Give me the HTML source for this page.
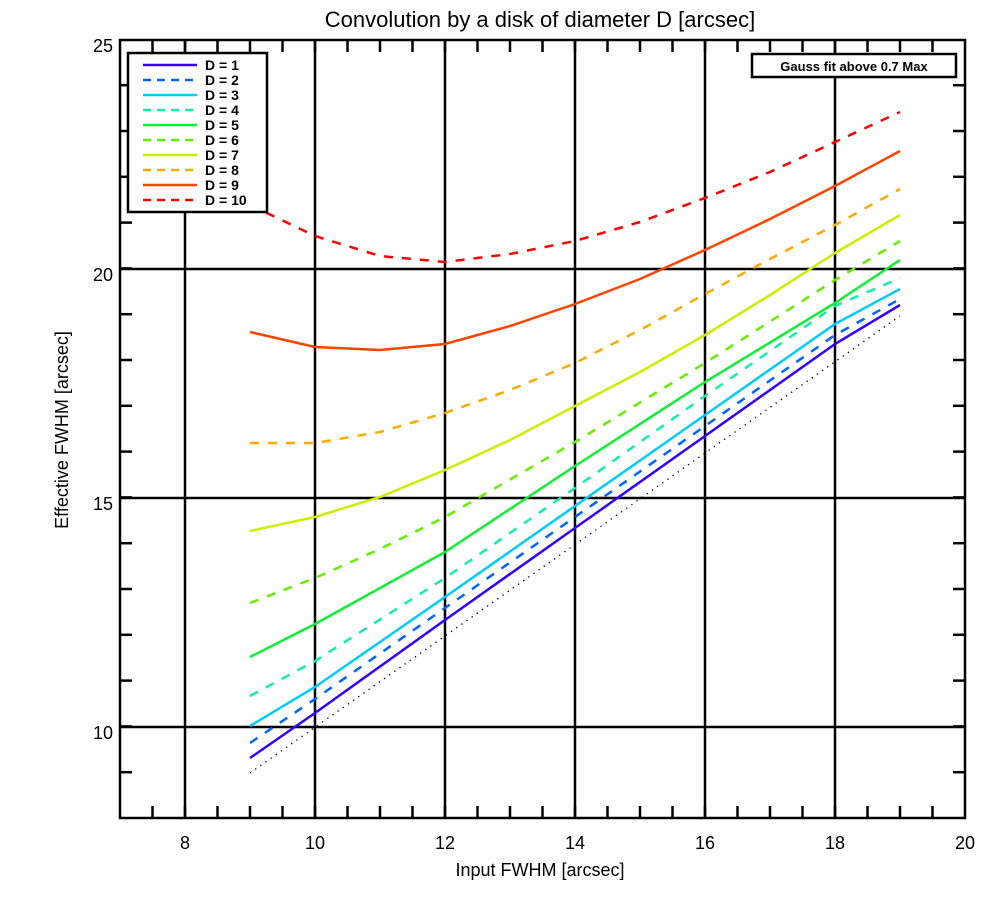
<!DOCTYPE html>
<html><head><meta charset="utf-8"><style>
html,body{margin:0;padding:0;background:#fff;}
svg{display:block;font-family:"Liberation Sans",sans-serif;}
</style></head><body>
<svg id="s" width="1000" height="900" xmlns="http://www.w3.org/2000/svg">
<rect width="1000" height="900" fill="#fff"/>
<g id="grid" stroke="#000" stroke-width="2.5"></g>
<g fill="none" stroke-width="2.5">
<polyline stroke="#000" stroke-width="1.3" stroke-dasharray="1.3,5" points="250,773 900,316"/>
<polyline stroke="#3300ff" points="250,758 315,713 445,620 575,528 705,436 835,344 900,305"/>
<polyline stroke="#0066ff" stroke-dasharray="9,9" points="250,743 315,699 445,608 575,517 705,426 835,335 900,299"/>
<polyline stroke="#00ccff" points="250,726 315,687 445,597 575,506 705,415 835,324 900,289"/>
<polyline stroke="#11eeaa" stroke-dasharray="9,9" points="250,696 315,661 445,578 575,488 705,396 835,306 900,278"/>
<polyline stroke="#11ee33" points="250,657 315,624 445,552 575,466 705,382 835,303 900,260"/>
<polyline stroke="#66ee00" stroke-dasharray="9,9" points="250,603 315,578 380,549 445,517 575,442 705,363 835,280 900,241"/>
<polyline stroke="#ccee00" points="250,531 315,517 380,497 445,470 510,440 575,406 640,372 705,335 770,295 835,253 900,215"/>
<polyline stroke="#ffaa00" stroke-dasharray="9,9" points="250,443 315,443 380,432 445,413 510,390 575,363 640,330 705,294 770,259 835,225 900,189"/>
<polyline stroke="#ff4400" points="250,332 315,347 380,350 445,344 510,326 575,304 640,279 705,250 770,219 835,186 900,151"/>
<polyline stroke="#ff0000" stroke-dasharray="9,9" points="250,205 315,236 380,256 445,262 510,254 575,241 640,222 705,198 770,172 835,142 900,112"/>
</g>
<g id="ax" stroke="#000" stroke-width="2.5" fill="none">
<rect x="120" y="40" width="845" height="778"/>
</g>
<rect x="128" y="53" width="139" height="159" fill="#fff" stroke="#000" stroke-width="2.5"/>
<g stroke-width="2.5">
<line x1="143" y1="65" x2="197" y2="65" stroke="#3300ff"/>
<line x1="143" y1="80" x2="197" y2="80" stroke="#0066ff" stroke-dasharray="8,6"/>
<line x1="143" y1="95" x2="197" y2="95" stroke="#00ccff"/>
<line x1="143" y1="110" x2="197" y2="110" stroke="#11eeaa" stroke-dasharray="8,6"/>
<line x1="143" y1="125" x2="197" y2="125" stroke="#11ee33"/>
<line x1="143" y1="140" x2="197" y2="140" stroke="#66ee00" stroke-dasharray="8,6"/>
<line x1="143" y1="155" x2="197" y2="155" stroke="#ccee00"/>
<line x1="143" y1="170" x2="197" y2="170" stroke="#ffaa00" stroke-dasharray="8,6"/>
<line x1="143" y1="185" x2="197" y2="185" stroke="#ff4400"/>
<line x1="143" y1="200" x2="197" y2="200" stroke="#ff0000" stroke-dasharray="8,6"/>
</g>
<g font-size="14" font-weight="bold" fill="#000">
<text x="205" y="70">D = 1</text><text x="205" y="85">D = 2</text><text x="205" y="100">D = 3</text>
<text x="205" y="115">D = 4</text><text x="205" y="130">D = 5</text><text x="205" y="145">D = 6</text>
<text x="205" y="160">D = 7</text><text x="205" y="175">D = 8</text><text x="205" y="190">D = 9</text>
<text x="205" y="205">D = 10</text>
</g>
<rect x="752" y="54" width="204" height="23" fill="#fff" stroke="#000" stroke-width="2.5"/>
<text x="854" y="71" font-size="13" font-weight="bold" text-anchor="middle">Gauss fit above 0.7 Max</text>
<g font-size="18" text-anchor="middle">
<text x="185" y="849">8</text><text x="315" y="849">10</text><text x="445" y="849">12</text>
<text x="575" y="849">14</text><text x="705" y="849">16</text><text x="835" y="849">18</text><text x="965" y="849">20</text>
</g>
<g font-size="18" text-anchor="end">
<text x="113" y="52">25</text><text x="113" y="281">20</text><text x="113" y="510">15</text><text x="113" y="739">10</text>
</g>
<text x="540" y="876" font-size="18" text-anchor="middle">Input FWHM [arcsec]</text>
<text transform="translate(68,430) rotate(-90)" font-size="18" text-anchor="middle">Effective FWHM [arcsec]</text>
<text x="540" y="27" font-size="22" text-anchor="middle">Convolution by a disk of diameter D [arcsec]</text>
<script>
var ns="http://www.w3.org/2000/svg",g=document.getElementById("grid");
function L(x1,y1,x2,y2,w){var l=document.createElementNS(ns,"line");l.setAttribute("x1",x1);l.setAttribute("y1",y1);l.setAttribute("x2",x2);l.setAttribute("y2",y2);if(w)l.setAttribute("stroke-width",w);g.appendChild(l);}
[185,315,445,575,705,835].forEach(function(x){L(x,40,x,818);});
[269,498,727].forEach(function(y){L(120,y,965,y);});
for(var i=1;i<26;i++){var x=120+32.5*i;L(x,818,x,806);L(x,40,x,52);}
for(var v=9;v<25;v++){var y=818-(v-8)*45.8;L(120,y,132,y);L(965,y,953,y);}
</script>
</svg>
</body></html>
